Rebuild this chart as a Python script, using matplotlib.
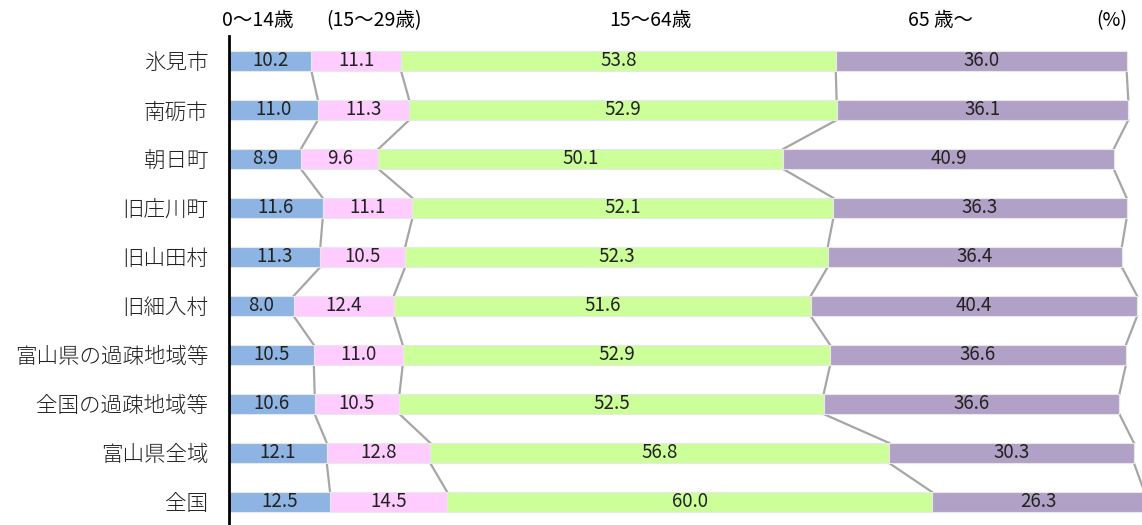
import matplotlib
matplotlib.use('Agg')
import matplotlib.pyplot as plt

plt.rcParams['font.family'] = ['Noto Sans CJK JP', 'DejaVu Sans']

regions = ['氷見市', '南砺市', '朝日町', '旧庄川町', '旧山田村', '旧細入村',
           '富山県の過疎地域等', '全国の過疎地域等', '富山県全域', '全国']
age_0_14 = [10.2, 11.0, 8.9, 11.6, 11.3, 8.0, 10.5, 10.6, 12.1, 12.5]
age_15_29 = [11.1, 11.3, 9.6, 11.1, 10.5, 12.4, 11.0, 10.5, 12.8, 14.5]
age_15_64 = [53.8, 52.9, 50.1, 52.1, 52.3, 51.6, 52.9, 52.5, 56.8, 60.0]
age_65 = [36.0, 36.1, 40.9, 36.3, 36.4, 40.4, 36.6, 36.6, 30.3, 26.3]

series = [age_0_14, age_15_29, age_15_64, age_65]
colors = ['#8DB4E2', '#FFCCFF', '#CCFF99', '#B2A1C7']
headers = ['0～14歳', '(15～29歳)', '15～64歳', '65 歳～', '(%)']
header_x = [0.032, 0.159, 0.461, 0.779, 0.967]

fig = plt.figure(figsize=(11.42, 5.25), dpi=100)
ax = fig.add_axes([229 / 1142, -1.5 / 525, 913 / 1142, 490 / 525])

n = len(regions)
ys = list(range(n))
h = 0.41
left = [0.0] * n
edges = []
for vals, col in zip(series, colors):
    ax.barh(ys, vals, left=left, height=h, color=col, edgecolor='#E8E8E8', linewidth=0.8, zorder=2)
    for y, l, v in zip(ys, left, vals):
        ax.text(l + v / 2, y, '%.1f' % v, ha='center', va='center', fontsize=13.5, color='#222222', zorder=3)
    left = [l + v for l, v in zip(left, vals)]
    edges.append(list(left))

# series lines between bars
for cum in edges:
    for i in range(n - 1):
        ax.plot([cum[i], cum[i + 1]], [i + h / 2, i + 1 - h / 2], color='#A6A6A6', lw=1.6, zorder=1)

ax.set_xlim(0, 113)
ax.set_ylim(n - 0.5, -0.5)
ax.set_yticks(ys)
ax.set_yticklabels(regions, fontsize=15.5, fontweight='light', color='#222222')
ax.tick_params(axis='y', length=0, pad=15)
ax.set_xticks([])
for s in ['top', 'right', 'bottom']:
    ax.spines[s].set_visible(False)
ax.spines['left'].set_linewidth(2)
ax.spines['left'].set_color('black')

for t, x in zip(headers, header_x):
    fig.text(229 / 1142 + x * 913 / 1142, 1 - 21 / 525, t, ha='center', va='center', fontsize=14)

fig.savefig('out.png', dpi=100)
